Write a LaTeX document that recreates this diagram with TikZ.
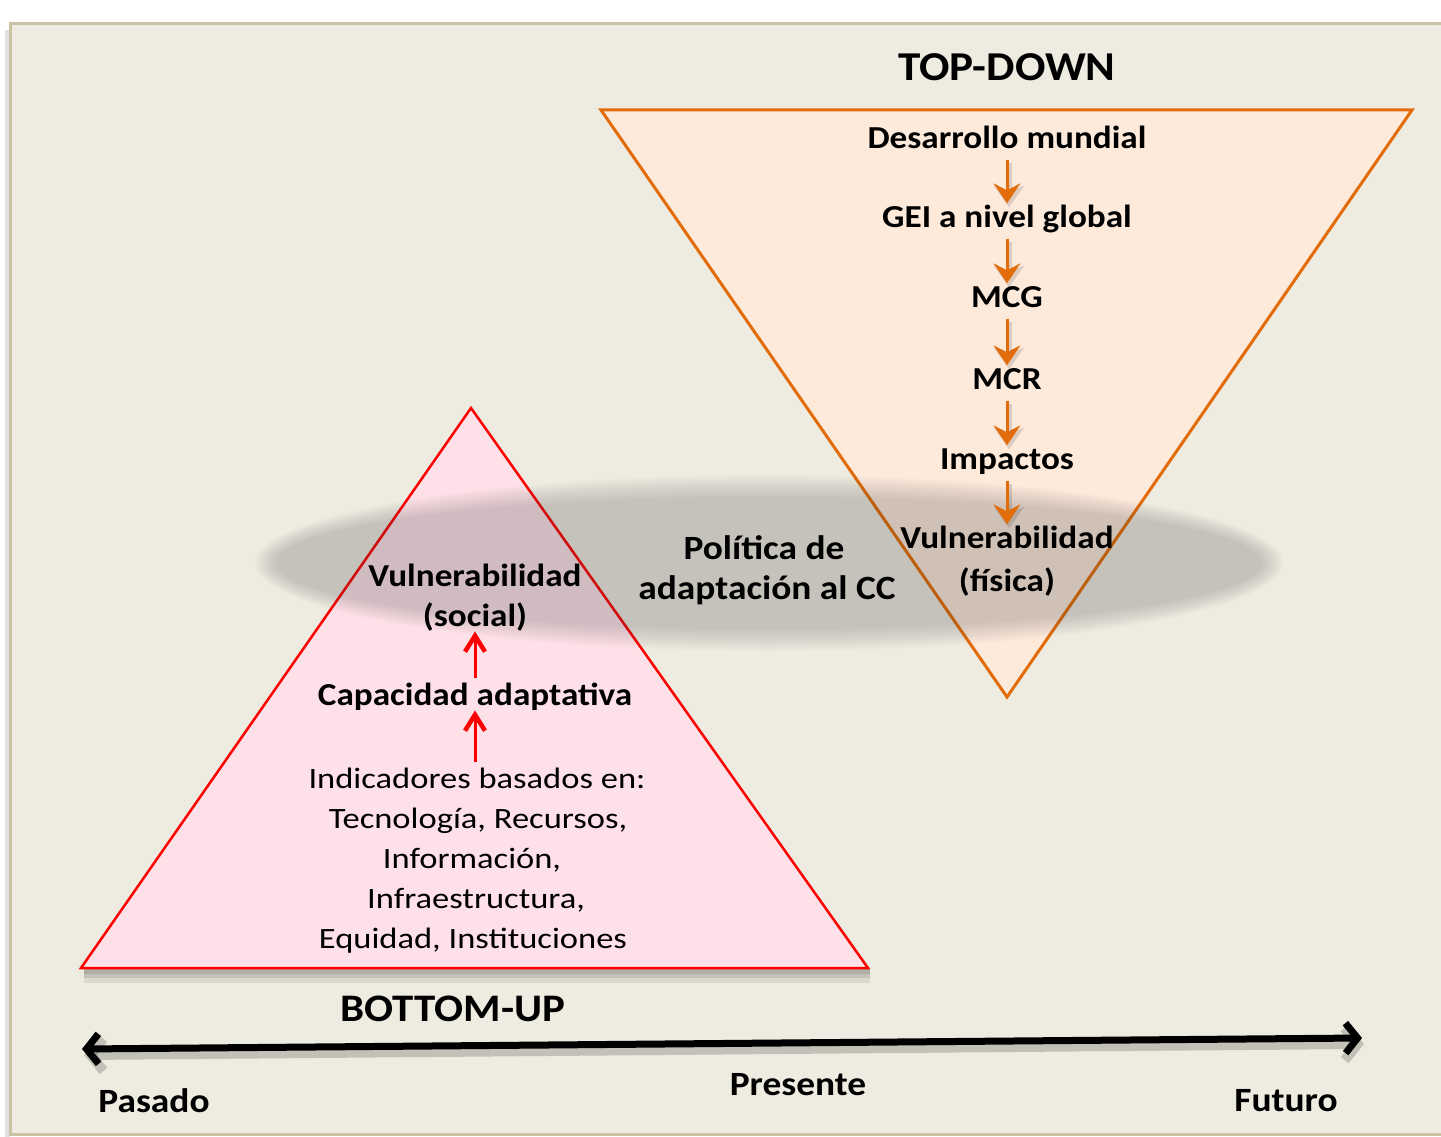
\documentclass[tikz,border=0pt]{standalone}
\usepackage{fontspec}
\setmainfont{Carlito}[FakeStretch=1.1]
\newfontfamily\regfont{Carlito}[FakeStretch=1.17]
\usetikzlibrary{arrows.meta}
\definecolor{bgc}{HTML}{EEEBE0}
\definecolor{framec}{HTML}{C9C3A4}
\definecolor{pinkf}{HTML}{FEE1E8}
\definecolor{orangef}{HTML}{FDEADB}
\definecolor{orangel}{HTML}{E36C0A}
\begin{document}
\begin{tikzpicture}[x=1pt,y=-1pt,
  lbl/.style={font=\fontsize{32}{38}\selectfont\bfseries, inner sep=2pt, text height=22pt, text depth=7pt},
  reg/.style={font=\regfont\fontsize{29.5}{34}\selectfont, inner sep=2pt, text height=21pt, text depth=6pt},
  big/.style={font=\fontsize{41}{48}\selectfont\bfseries, inner sep=2pt},
  axlbl/.style={font=\fontsize{34}{40}\selectfont\bfseries, inner sep=2pt},
  pol/.style={font=\fontsize{34}{40}\selectfont\bfseries, inner sep=2pt},
  downshaft/.style={draw=orangel, line width=3pt, shorten <=2pt, shorten >=12pt},
  uparrshaft/.style={draw=red, line width=3pt, shorten <=3pt, shorten >=3pt},
  redchev/.style={draw=red, line width=4.5pt, line join=miter},
  shad/.style={black, opacity=0.13},
]
\useasboundingbox (0,0) rectangle (1441,1137);
\fill[white] (0,0) rectangle (1441,1137);
% frame
\fill[black!12] (5,30) rectangle (10,1137);
\draw[framec, line width=3pt, fill=bgc] (10,24) rectangle (1450,1134);

% top triangle
\coordinate (tA) at (601,110);
\coordinate (tB) at (1412,110);
\coordinate (tC) at (1007,697);
\draw[orangel, line width=3pt, fill=orangef, line join=miter] (tA) -- (tB) -- (tC) -- cycle;

% bottom triangle shadow and triangle
\fill[black, opacity=0.08] (84,968) rectangle (870,983);
\fill[black, opacity=0.10] (84,968) rectangle (870,978);
\fill[black, opacity=0.10] (84,968) rectangle (870,974);
\coordinate (bA) at (471,408);
\coordinate (bB) at (81,968);
\coordinate (bC) at (868,968);
\draw[red, line width=2.5pt, fill=pinkf, line join=miter] (bA) -- (bC) -- (bB) -- cycle;

% ellipse (soft edge)
\coordinate (ec) at (769,563);
\foreach \k in {0,...,11} {
  \fill[black!75, opacity=0.021] (ec) ellipse [x radius={514-2*\k}, y radius={88-2*\k}];
}

% top-down chain
\node[big] (td) at (1007,67) {TOP-DOWN};
\node[lbl] (n1) at (1007,141) {Desarrollo mundial};
\node[lbl] (n2) at (1007,220) {GEI a nivel global};
\node[lbl] (n3) at (1007,300) {MCG};
\node[lbl] (n4) at (1007,382) {MCR};
\node[lbl] (n5) at (1007,462) {Impactos};
\node[lbl] (n6) at (1007,541) {Vulnerabilidad};
\node[lbl] (n6b) at (1007,584) {(física)};

\foreach \a/\b in {n1/n2, n2/n3, n3/n4, n4/n5, n5/n6} {
  % shadow
  \draw[shad, line width=5pt, shorten <=2pt, shorten >=12pt, transform canvas={xshift=2pt,yshift=-3pt}] (\a.south) -- (\b.north);
  \fill[shad, transform canvas={xshift=2pt,yshift=-3pt}] (\b.north) ++(0,1) -- ++(-15.5,-22) -- ++(15.5,7) -- ++(15.5,-7) -- cycle;
  % arrow
  \draw[downshaft] (\a.south) -- (\b.north);
  \fill[orangel] (\b.north) -- ++(-13.5,-20) -- ++(13.5,7) -- ++(13.5,-7) -- cycle;
}

% policy
\node[pol] (p1) at (764,548) {Política de};
\node[pol] (p2) at (767,590) {adaptación al CC};

% bottom-up chain
\node[lbl] (v1) at (475,579) {Vulnerabilidad};
\node[lbl] (v2) at (475,619) {(social)};
\node[lbl] (cap) at (475,698) {Capacidad adaptativa};
\node[reg] (i1) at (477,781) {Indicadores basados en:};
\node[reg] (i2) at (478,821) {Tecnología, Recursos,};
\node[reg] (i3) at (472,861) {Información,};
\node[reg] (i4) at (476,901) {Infraestructura,};
\node[reg] (i5) at (473,941) {Equidad, Instituciones};

\coordinate (i1top) at (i1.north -| cap.south);
\draw[uparrshaft] (cap.north) -- (v2.south);
\draw[redchev] (v2.south) ++(-10,16) -- ++(10,-16) -- ++(10,16);
\draw[uparrshaft] (i1top) -- (cap.south);
\draw[redchev] (cap.south) ++(-10,16) -- ++(10,-16) -- ++(10,16);

% bottom labels and timeline
\node[font=\fontsize{39}{46}\selectfont\bfseries] (bu) at (453,1009) {BOTTOM-UP};
\coordinate (tl) at (82,1049);
\coordinate (tr) at (1362,1038);
\draw[black, opacity=0.18, line width=10pt, {Straight Barb[length=13pt,width=32pt]}-{Straight Barb[length=13pt,width=32pt]}, transform canvas={xshift=2pt,yshift=-6pt}] (tl) -- (tr);
\draw[black, line width=7pt, {Straight Barb[length=12pt,width=30pt]}-{Straight Barb[length=12pt,width=30pt]}] (tl) -- (tr);
\node[axlbl] (pas) at (154,1101) {Pasado};
\node[axlbl] (pre) at (798,1085) {Presente};
\node[axlbl] (fut) at (1286,1101) {Futuro};
\end{tikzpicture}
\end{document}
